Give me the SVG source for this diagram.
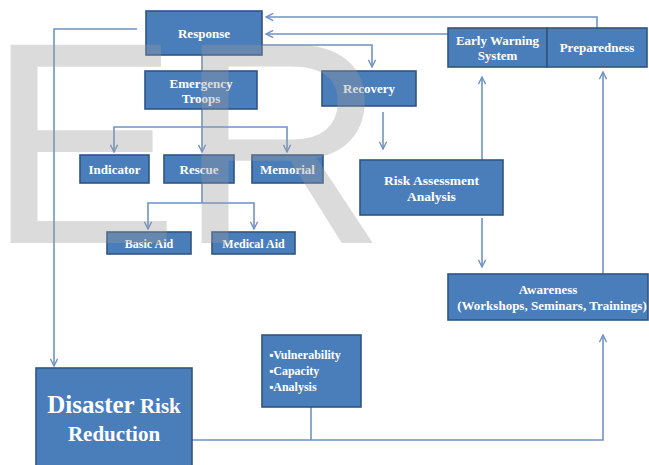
<svg xmlns="http://www.w3.org/2000/svg" width="649" height="465" viewBox="0 0 649 465">
<defs>
<marker id="arr" viewBox="0 0 10 10" refX="9" refY="5" markerWidth="9" markerHeight="9" markerUnits="userSpaceOnUse" orient="auto">
<polyline points="1,1 9,5 1,9" fill="none" stroke="#6f93c6" stroke-width="1.6"/>
</marker>
<style>
.box{fill:#4a7ebb;stroke:#2f5583;stroke-width:1.6}
.t{font-family:'Liberation Serif','Times New Roman',serif;font-weight:bold;fill:#ffffff;font-size:13px;text-anchor:middle}
.s{font-size:12px}
.c{fill:none;stroke:#6f93c6;stroke-width:1.6}
.a{marker-end:url(#arr)}
.wm{font-family:'Liberation Sans',Arial,sans-serif;font-size:288px;fill:#9a9a9a;opacity:0.35}
</style>
</defs>
<rect width="649" height="465" fill="#ffffff"/>
<g id="connectors">
<polyline class="c a" points="137,29 54,29 54,366"/>
<line class="c" x1="202" y1="55" x2="202" y2="71"/>
<line class="c a" x1="202" y1="109" x2="202" y2="152"/>
<polyline class="c a" points="202,127 114,127 114,152"/>
<polyline class="c a" points="202,127 287,127 287,152"/>
<line class="c" x1="202" y1="183" x2="202" y2="203"/>
<polyline class="c a" points="202,203 148,203 148,229"/>
<polyline class="c a" points="202,203 254,203 254,229"/>
<polyline class="c a" points="597,28 597,17 266,17"/>
<line class="c a" x1="448" y1="34" x2="266" y2="34"/>
<polyline class="c a" points="262,45 372,45 372,67"/>
<line class="c a" x1="383" y1="112" x2="383" y2="149"/>
<line class="c a" x1="482" y1="160" x2="482" y2="77"/>
<line class="c a" x1="482" y1="218" x2="482" y2="267"/>
<line class="c a" x1="603" y1="274" x2="603" y2="72"/>
<polyline class="c a" points="192,440 603,440 603,335"/>
<line class="c" x1="311" y1="407" x2="311" y2="440"/>
</g>
<g id="response"><rect class="box" x="146" y="11" width="116" height="44"/><text class="t" x="204" y="38">Response</text></g>
<g id="emergency-troops"><rect class="box" x="145" y="71" width="112" height="38"/><text class="t" x="201" y="88">Emergency</text><text class="t" x="201" y="103">Troops</text></g>
<g id="indicator"><rect class="box" x="80" y="155" width="69" height="28"/><text class="t" x="114.5" y="174">Indicator</text></g>
<g id="rescue"><rect class="box" x="164" y="155" width="70" height="28"/><text class="t" x="199" y="174">Rescue</text></g>
<g id="memorial"><rect class="box" x="252" y="155" width="71" height="28"/><text class="t" x="287.5" y="174">Memorial</text></g>
<g id="basic-aid"><rect class="box" x="107" y="232" width="84" height="22"/><text class="t s" x="149" y="248">Basic Aid</text></g>
<g id="medical-aid"><rect class="box" x="212" y="232" width="83" height="22"/><text class="t s" x="253.5" y="248">Medical Aid</text></g>
<g id="recovery"><rect class="box" x="322" y="71" width="94" height="35"/><text class="t" x="369" y="93">Recovery</text></g>
<g id="early-warning"><rect class="box" x="448" y="28" width="99" height="39"/><text class="t" x="497.5" y="45">Early Warning</text><text class="t" x="497.5" y="60">System</text></g>
<g id="preparedness"><rect class="box" x="547" y="28" width="100" height="39"/><text class="t" x="597" y="52">Preparedness</text></g>
<g id="risk-assessment"><rect class="box" x="360" y="160" width="143" height="55"/><text class="t" x="431.5" y="185" style="font-size:13.5px">Risk Assessment</text><text class="t" x="431.5" y="201" style="font-size:13.5px">Analysis</text></g>
<g id="awareness"><rect class="box" x="448" y="274" width="200" height="46"/><text class="t" x="548" y="294">Awareness</text><text class="t" x="552" y="310">(Workshops, Seminars, Trainings)</text></g>
<g id="vulnerability"><rect class="box" x="262" y="335" width="99" height="72"/><text class="t s" x="269" y="359" style="text-anchor:start">▪Vulnerability</text><text class="t s" x="269" y="375" style="text-anchor:start">▪Capacity</text><text class="t s" x="269" y="391" style="text-anchor:start">▪Analysis</text></g>
<g id="disaster-risk-reduction"><rect class="box" x="36" y="368" width="156" height="105"/><text class="t" x="114" y="413"><tspan style="font-size:25px">Disaster</tspan><tspan style="font-size:21px"> Risk</tspan></text><text class="t" x="114" y="441" style="font-size:21px">Reduction</text></g>
<text class="wm" x="-13" y="243">E</text>
<text class="wm" x="178" y="243">R</text>
</svg>
